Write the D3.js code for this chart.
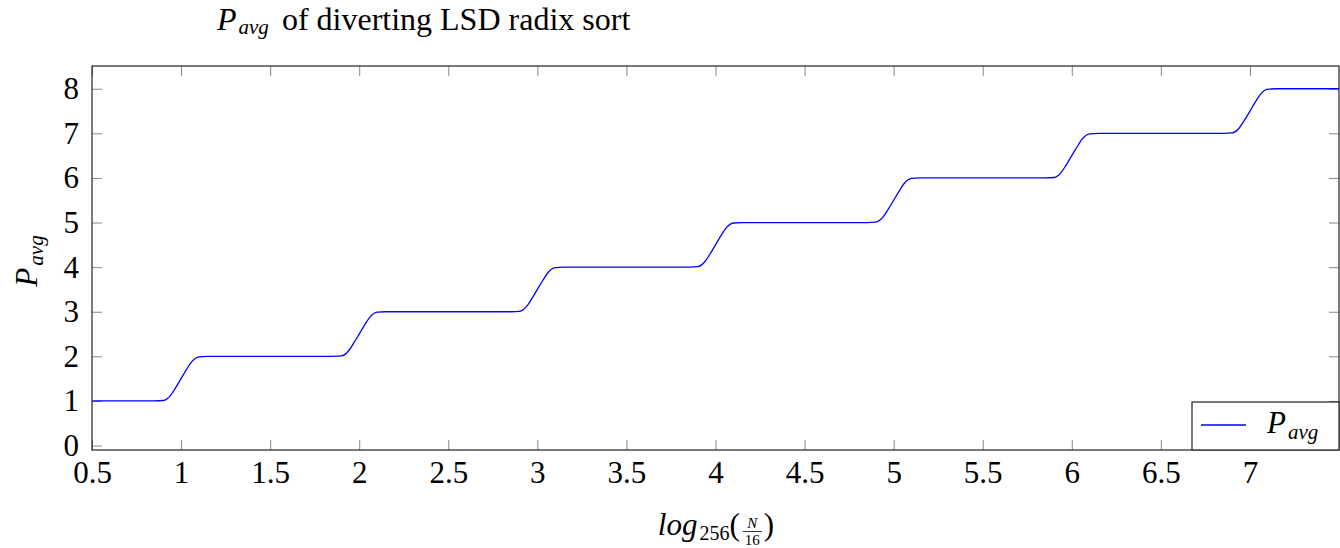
<!DOCTYPE html>
<html>
<head>
<meta charset="utf-8">
<script src="https://cdn.jsdelivr.net/npm/d3@7"></script>
</head>
<body style="margin:0">
<div id="chart"></div>
<script>
// Puntos (log256(N/16), P_avg)
const x_vals = [0.5, 0.85, 0.9, 0.94, 0.97, 1.0, 1.03, 1.06, 1.1, 1.15,
  1.85, 1.9, 1.94, 1.97, 2.0, 2.03, 2.06, 2.1, 2.15,
  2.85, 2.9, 2.94, 2.97, 3.0, 3.03, 3.06, 3.1, 3.15,
  3.85, 3.9, 3.94, 3.97, 4.0, 4.03, 4.06, 4.1, 4.15,
  4.85, 4.9, 4.94, 4.97, 5.0, 5.03, 5.06, 5.1, 5.15,
  5.85, 5.9, 5.94, 5.97, 6.0, 6.03, 6.06, 6.1, 6.15,
  6.85, 6.9, 6.94, 6.97, 7.0, 7.03, 7.06, 7.1, 7.15, 7.5]
const p_vals = [1, 1, 1.01, 1.12, 1.3, 1.5, 1.7, 1.88, 1.99, 2,
  2, 2.01, 2.12, 2.3, 2.5, 2.7, 2.88, 2.99, 3,
  3, 3.01, 3.12, 3.3, 3.5, 3.7, 3.88, 3.99, 4,
  4, 4.01, 4.12, 4.3, 4.5, 4.7, 4.88, 4.99, 5,
  5, 5.01, 5.12, 5.3, 5.5, 5.7, 5.88, 5.99, 6,
  6, 6.01, 6.12, 6.3, 6.5, 6.7, 6.88, 6.99, 7,
  7, 7.01, 7.12, 7.3, 7.5, 7.7, 7.88, 7.99, 8, 8]

const x_ticks = [0.5, 1, 1.5, 2, 2.5, 3, 3.5, 4, 4.5, 5, 5.5, 6, 6.5, 7]
const y_ticks = [0, 1, 2, 3, 4, 5, 6, 7, 8]

const width = 1340, height = 548
const margin = { top: 66, right: 1, bottom: 98, left: 92 }
const w = width - margin.left - margin.right
const h = height - margin.top - margin.bottom
const tick_len = 10
const font_size = 31
const sub_size = 21

// Aplica la fuente serif a un texto
const serif = (sel, size, italic) => sel
  .attr('font-family', "'Liberation Serif'")
  .style('font-family', "'Liberation Serif'")
  .style('font-size', size + 'px')
  .style('font-style', italic ? 'italic' : 'normal')
  .attr('fill', '#000')

const svg = d3.select('#chart').append('svg')
  .attr('width', width)
  .attr('height', height)

const g = svg.append('g')
  .attr('transform', `translate(${margin.left},${margin.top})`)

// Escalas
const x = d3.scaleLinear().domain([0.5, 7.5]).range([0, w])
const y = d3.scaleLinear().domain([-0.1, 8.51]).range([h, 0])

// Ticks interiores (abajo/arriba, izquierda/derecha)
const tick_style = sel => sel.selectAll('line').attr('stroke', '#888').attr('stroke-width', 1)

g.append('g').attr('transform', `translate(0,${h})`)
  .call(d3.axisBottom(x).tickValues(x_ticks).tickSize(-tick_len).tickSizeOuter(0).tickFormat(d3.format('')))
  .attr('font-family', null).attr('font-size', null)
  .call(a => a.select('.domain').remove())
  .call(tick_style)
  .call(a => a.selectAll('text').attr('y', 11).attr('dy', '0.71em').call(serif, font_size, false))

g.append('g')
  .call(d3.axisTop(x).tickValues(x_ticks).tickSize(-tick_len).tickSizeOuter(0).tickFormat(''))
  .call(a => a.select('.domain').remove())
  .call(tick_style)

g.append('g')
  .call(d3.axisLeft(y).tickValues(y_ticks).tickSize(-tick_len).tickSizeOuter(0))
  .attr('font-family', null).attr('font-size', null)
  .call(a => a.select('.domain').remove())
  .call(tick_style)
  .call(a => a.selectAll('text').attr('x', -13).call(serif, font_size, false))

g.append('g').attr('transform', `translate(${w},0)`)
  .call(d3.axisRight(y).tickValues(y_ticks).tickSize(-tick_len).tickSizeOuter(0).tickFormat(''))
  .call(a => a.select('.domain').remove())
  .call(tick_style)

// Curva
const line = d3.line()
  .x((d, i) => x(x_vals[i]))
  .y(d => y(d))
  .curve(d3.curveMonotoneX)

g.append('path')
  .datum(p_vals)
  .attr('fill', 'none')
  .attr('stroke', '#0000ff')
  .attr('stroke-width', 1.3)
  .attr('d', line)

// Marco
g.append('rect')
  .attr('width', w).attr('height', h)
  .attr('fill', 'none')
  .attr('stroke', '#222')
  .attr('stroke-width', 1.2)

// Leyenda
const leg_w = 147, leg_h = 48
const legend = g.append('g').attr('transform', `translate(${w - leg_w},${h - leg_h})`)
legend.append('rect')
  .attr('width', leg_w).attr('height', leg_h)
  .attr('fill', '#fff').attr('stroke', '#222').attr('stroke-width', 1.2)
legend.append('line')
  .attr('x1', 9).attr('x2', 54).attr('y1', 23).attr('y2', 23)
  .attr('stroke', '#0000ff').attr('stroke-width', 1.3)
const leg_text = legend.append('text').attr('x', 75).attr('y', 31).call(serif, font_size, true)
leg_text.append('tspan').text('P')
leg_text.append('tspan').text('avg').style('font-size', sub_size + 'px').attr('dy', 6).attr('dx', 2)

// Titulo
const title = svg.append('text').attr('x', 217).attr('y', 30).call(serif, 32, false)
title.append('tspan').text('P').style('font-style', 'italic')
title.append('tspan').text('avg').style('font-style', 'italic').style('font-size', sub_size + 'px').attr('dy', 4).attr('dx', 2)
title.append('tspan').text(' of diverting LSD radix sort').attr('dy', -4).attr('dx', 5)

// Etiqueta eje y
const ylab = svg.append('text')
  .attr('transform', `translate(37,${261}) rotate(-90)`)
  .attr('text-anchor', 'middle')
  .call(serif, font_size, true)
ylab.append('tspan').text('P')
ylab.append('tspan').text('avg').style('font-size', sub_size + 'px').attr('dy', 6).attr('dx', 2)

// Etiqueta eje x: log_256(N/16)
const xlab = svg.append('g')
const base_y = 535
const t_log = xlab.append('text').attr('y', base_y).call(serif, font_size, true).text('log')
const t_sub = xlab.append('text').attr('y', base_y + 5).call(serif, 20, false).text('256')
const t_open = xlab.append('text').attr('y', base_y).call(serif, font_size, false).text('(')
const t_num = xlab.append('text').attr('y', 528).attr('text-anchor', 'middle').call(serif, 15, true).text('N')
const t_den = xlab.append('text').attr('y', 545).attr('text-anchor', 'middle').call(serif, 15, false).text('16')
const t_close = xlab.append('text').attr('y', base_y).call(serif, font_size, false).text(')')

const w_log = t_log.node().getComputedTextLength() + 2
const w_sub = t_sub.node().getComputedTextLength()
const w_open = t_open.node().getComputedTextLength() + 2
const w_frac = Math.max(t_num.node().getComputedTextLength(), t_den.node().getComputedTextLength()) + 6
const w_close = t_close.node().getComputedTextLength()
const total = w_log + w_sub + w_open + w_frac + w_close
let cx = margin.left + w / 2 - total / 2
t_log.attr('x', cx); cx += w_log
t_sub.attr('x', cx); cx += w_sub
t_open.attr('x', cx); cx += w_open
t_num.attr('x', cx + w_frac / 2)
t_den.attr('x', cx + w_frac / 2)
xlab.append('line').attr('x1', cx + 1).attr('x2', cx + w_frac - 1)
  .attr('y1', 531.5).attr('y2', 531.5).attr('stroke', '#000').attr('stroke-width', 0.8)
cx += w_frac + 1
t_close.attr('x', cx)
</script>
</body>
</html>
